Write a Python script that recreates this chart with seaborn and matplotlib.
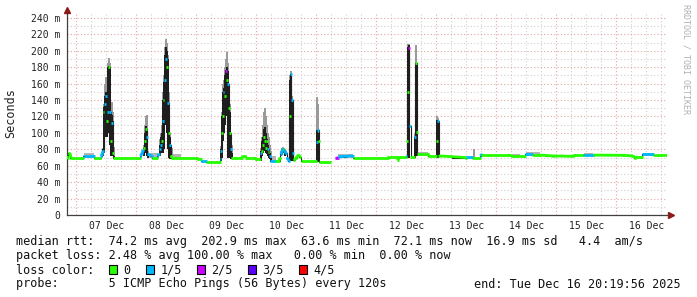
import numpy as np
import pandas as pd
import matplotlib
matplotlib.use("Agg")
import matplotlib.pyplot as plt
import matplotlib.dates as mdates
from matplotlib.ticker import MultipleLocator, FuncFormatter
from matplotlib.patches import Rectangle
from matplotlib.collections import LineCollection
import seaborn as sns

# ---------------- data ----------------
START = "2025-12-06 20:20"
SPAN_DAYS = 10

# median rtt (ms), hours since START, loss level (0..4 of 5 pings)
med_hours = [0.0, 0.4, 0.8, 1.2, 1.6, 6.4, 6.6, 10.8, 11.0, 13.4, 13.6, 14.0, 14.4,
             14.8, 15.2, 15.6, 16.0, 16.4, 16.8, 17.2, 17.6, 18.0, 18.4, 18.8,
             29.2, 29.4, 30.0, 30.4, 30.8, 31.2, 31.6, 32.0, 32.4, 34.0, 34.2, 36.0, 36.2, 36.8,
             37.2, 37.6, 38.0, 38.4, 38.8, 39.2, 39.6, 40.0, 40.4, 40.8, 41.2, 41.6, 42.0,
             52.0, 52.2, 53.6, 53.8, 55.6, 55.8, 61.2, 61.4,
             61.6, 62.0, 62.4, 62.8, 63.2, 63.6, 64.0, 64.4, 64.8, 65.2, 65.6, 66.0,
             70.0, 70.4, 71.2, 71.6, 75.2, 75.4, 77.2,
             77.6, 78.0, 78.4, 78.8, 79.2, 79.6, 80.0, 80.4, 80.8, 81.2, 81.6, 83.2, 83.4, 84.8,
             85.2, 85.6, 86.0, 86.4, 86.8, 87.2, 87.6, 88.0, 88.8,
             89.2, 89.6, 90.0, 90.4, 90.8, 91.6, 92.0, 92.8, 93.2, 94.0, 99.6,
             100.0, 100.4, 100.8, 101.2, 105.2, 106.4,
             107.6, 108.4, 108.6, 114.4, 114.6, 128.4, 128.8, 132.0, 132.4, 132.8, 135.6, 135.8,
             136.0, 136.4, 136.8, 137.2, 137.6, 138.8,
             139.2, 139.6, 140.0, 140.4, 144.4, 144.8, 147.6,
             148.0, 148.4, 148.8, 159.6, 159.8, 162.0, 162.2, 165.2, 165.4, 165.8, 166.0,
             176.4, 178.0, 183.2, 183.6, 186.0, 186.2, 189.2, 194.4, 202.4, 202.8, 206.4,
             206.6, 210.4, 210.6, 222.4, 226.4, 227.2, 228.4, 230.0, 230.4, 234.4, 234.6, 240.0]
med_ms = [71, 70, 75, 74, 70, 70, 72, 72, 70, 70, 72, 74, 78,
          125, 135, 145, 115, 125, 180, 125, 90, 112, 75, 70,
          70, 72, 75, 79, 82, 90, 105, 95, 74, 72, 70, 70, 72, 74,
          80, 85, 90, 115, 140, 165, 190, 180, 136, 100, 85, 72, 70,
          70, 68, 68, 66, 66, 64, 64, 68,
          78, 100, 120, 150, 145, 175, 165, 160, 130, 100, 80, 70,
          70, 72, 72, 70, 70, 68, 68,
          75, 78, 85, 95, 90, 82, 90, 80, 77, 72, 66, 66, 66, 66,
          70, 74, 78, 81, 80, 78, 75, 70, 66,
          120, 172, 140, 75, 67, 69, 72, 73, 71, 66, 66,
          89, 104, 90, 64, 64, np.nan,
          69, 70, 71, 72, 70, 70, 71, 71, 67, 71, 71, 72,
          90, 150, 203, 108, 71, 71,
          95, 185, 101, 74, 74, 72, 72,
          90, 114, 72, 70, 71, 71, 70, 70, 72, 74, 73,
          73, 72, 72, 74, 74, 73, 73, 72, 71.5, 73, 73,
          73.5, 73.5, 73, 72.7, 72, 69.5, 71, 71, 74, 74, 72.7, 72.7]
med_loss = [0, 0, 0, 0, 0, 0, 1, 1, 0, 0, 1, 1, 1,
            0, 1, 1, 0, 1, 0, 1, 0, 1, 0, 0,
            0, 1, 1, 1, 0, 0, 0, 1, 1, 1, 0, 0, 1, 1,
            1, 1, 0, 1, 0, 1, 1, 0, 1, 0, 1, 0, 0,
            0, 0, 0, 1, 1, 0, 0, 1,
            1, 0, 0, 1, 0, 2, 0, 1, 0, 0, 1, 0,
            0, 0, 0, 0, 0, 0, 0,
            1, 0, 0, 0, 0, 0, 0, 1, 0, 1, 1, 1, 0, 0,
            0, 1, 1, 1, 0, 1, 1, 1, 1,
            0, 1, 1, 1, 0, 0, 0, 0, 0, 0, 0,
            1, 1, 0, 0, 0, 0,
            2, 2, 1, 1, 0, 0, 0, 0, 0, 0, 0, 1,
            0, 0, 2, 1, 0, 0,
            1, 0, 0, 0, 0, 0, 0,
            0, 1, 0, 0, 1, 1, 0, 0, 1, 1, 0,
            0, 0, 0, 1, 1, 0, 0, 0, 0, 0, 0,
            1, 1, 0, 0, 0, 0, 0, 0, 1, 1, 0, 0]

# smoke (spread of the 5 pings): hours, low, high of dense part, top of light part
smoke_hours = [0.8, 1.2,
               14.4, 14.8, 15.2, 15.6, 16.0, 16.4, 16.8, 17.2, 17.6, 18.0, 18.4, 18.8,
               30.8, 31.2, 31.6, 32.0, 32.4,
               37.2, 37.6, 38.0, 38.4, 38.8, 39.2, 39.6, 40.0, 40.4, 40.8, 41.2, 41.6, 42.0,
               61.6, 62.0, 62.4, 62.8, 63.2, 63.6, 64.0, 64.4, 64.8, 65.2, 65.6, 66.0,
               77.6, 78.0, 78.4, 78.8, 79.2, 79.6, 80.0, 80.4, 80.8, 81.2, 81.6,
               85.6, 86.0, 86.4, 86.8, 87.2,
               89.2, 89.6, 90.0, 90.4,
               100.0, 100.4,
               136.4, 136.8,
               139.2, 139.6, 140.0,
               148.0, 148.4,
               162.8]
smoke_lo = [72, 72,
            72, 75, 95, 105, 95, 100, 115, 85, 72, 80, 72, 70,
            72, 75, 80, 72, 70,
            72, 75, 78, 75, 80, 110, 130, 100, 80, 70, 68, 68, 68,
            66, 70, 90, 100, 110, 120, 130, 70, 70, 70, 68, 68,
            66, 72, 75, 78, 80, 76, 74, 72, 70, 68, 65,
            72, 74, 76, 75, 72,
            66, 66, 66, 66,
            64, 64,
            69, 69,
            72, 72, 72,
            70, 70,
            70]
smoke_hi = [76, 75,
            80, 131, 145, 150, 130, 180, 182, 180, 120, 122, 115, 72,
            82, 100, 108, 100, 74,
            85, 95, 100, 140, 162, 195, 205, 200, 190, 135, 95, 80, 72,
            80, 120, 150, 155, 170, 177, 180, 175, 150, 125, 90, 75,
            78, 90, 95, 105, 107, 100, 92, 85, 80, 75, 70,
            76, 80, 81, 80, 78,
            165, 172, 140, 75,
            104, 100,
            205, 207,
            95, 185, 101,
            116, 114,
            70]
smoke_top = [76, 76,
             82, 135, 160, 168, 140, 185, 191, 185, 125, 138, 125, 83,
             85, 110, 120, 122, 78,
             92, 100, 110, 150, 170, 205, 214, 210, 195, 150, 100, 85, 82,
             84, 125, 160, 165, 180, 190, 199, 185, 160, 135, 100, 85,
             82, 95, 110, 125, 130, 120, 110, 100, 95, 85, 78,
             78, 82, 83, 82, 80,
             170, 175, 145, 78,
             144, 135,
             208, 208,
             100, 207, 110,
             120, 118,
             81]

# light haze along the baseline: start hour, end hour, low, high
haze_start = [6.6, 32.4, 42.0, 81.6, 108.4, 140.4, 178.0, 183.6, 206.6, 230.4]
haze_end = [10.8, 36.8, 45.6, 83.6, 114.4, 144.4, 181.2, 189.2, 210.4, 234.4]
haze_lo = [70, 70, 69, 65, 70, 72, 71, 72, 72, 72]
haze_hi = [76, 76, 74, 72, 74, 77, 74, 76.4, 75, 76]

loss_labels = ["0", "1/5", "2/5", "3/5", "4/5"]
loss_colors = ["#26ff00", "#00b8ff", "#cc00ff", "#5a00ff", "#ff0000"]

stats_rtt = "median rtt:  74.2 ms avg  202.9 ms max  63.6 ms min  72.1 ms now  16.9 ms sd   4.4  am/s"
stats_loss = "packet loss: 2.48 % avg 100.00 % max   0.00 % min  0.00 % now"
probe_text = "probe:       5 ICMP Echo Pings (56 Bytes) every 120s"
end_text = "end: Tue Dec 16 20:19:56 2025"

# ---------------- drawing ----------------
sns.set_style("white")
plt.rcParams["font.family"] = ["DejaVu Sans Mono"]

W, H = 697, 297
fig = plt.figure(figsize=(W / 100, H / 100), dpi=100)
fig.patch.set_facecolor("white")
ax = fig.add_axes([67 / W, (H - 215) / H, 600 / W, 203 / H])
ax.set_facecolor("white")

t0 = mdates.date2num(pd.Timestamp(START))
col = 0.4 / 24.0  # one pixel column in days


def tx(hours):
    return t0 + np.asarray(hours, dtype=float) / 24.0


# haze
hs = tx(haze_start)
he = tx(haze_end)
ax.bar(hs, np.array(haze_hi) - np.array(haze_lo), bottom=haze_lo, width=he - hs,
       align="edge", color="#b4b4b4", linewidth=0, zorder=2)
# smoke
sx = tx(smoke_hours)
lo = np.array(smoke_lo, float)
hi = np.array(smoke_hi, float)
top = np.array(smoke_top, float)
ax.bar(sx, top - lo, bottom=lo, width=col * 1.1, color="#9a9a9a", linewidth=0, zorder=3)
ax.bar(sx, hi - lo, bottom=lo, width=col * 1.1, color="#1e1e1e", linewidth=0, zorder=4)

# median: thin dark line through every value
df = pd.DataFrame({"t": tx(med_hours), "ms": med_ms, "loss": med_loss})
df["seg"] = df["ms"].isna().cumsum()
dd = df.dropna().reset_index(drop=True)
sns.lineplot(data=dd, x="t", y="ms", units="seg", estimator=None, sort=False,
             color="#202020", linewidth=0.8, ax=ax, zorder=5, drawstyle="steps-mid")

# coloured median by loss level
t = df["t"].to_numpy()
v = df["ms"].to_numpy(dtype=float)
L = df["loss"].to_numpy()
segs, cols = [], []
for i in range(len(df) - 1):
    if np.isnan(v[i]) or np.isnan(v[i + 1]):
        continue
    if L[i] == L[i + 1] and abs(v[i + 1] - v[i]) <= 4:
        segs.append([(t[i], v[i]), (t[i + 1], v[i + 1])])
        cols.append(loss_colors[L[i]])
ax.add_collection(LineCollection(segs, colors=cols, linewidths=2.0, zorder=6,
                                 capstyle="butt"))
ax.hlines(dd["ms"], dd["t"] - col / 2, dd["t"] + col / 2,
          colors=[loss_colors[k] for k in dd["loss"]], linewidth=2.0, zorder=6)

# axes
ax.set_xlim(t0, t0 + SPAN_DAYS)
ax.set_ylim(0, 247.3)
ax.set_xlabel("")
ax.set_ylabel("")

major_c = "#e3a3a3"
minor_c = "#cfcfcf"
ax.xaxis.set_major_locator(mdates.HourLocator(byhour=[0]))
ax.xaxis.set_minor_locator(mdates.HourLocator(byhour=[6, 12, 18]))
ax.xaxis.set_major_formatter(FuncFormatter(lambda val, p: ""))
ax.xaxis.set_minor_formatter(FuncFormatter(
    lambda val, p: mdates.num2date(val).strftime("%d %b") if mdates.num2date(val).hour == 12 else ""))
ax.yaxis.set_major_locator(MultipleLocator(20))
ax.yaxis.set_minor_locator(MultipleLocator(10))
ax.yaxis.set_major_formatter(FuncFormatter(lambda val, p: "0" if val == 0 else f"{int(val)} m"))

ax.grid(True, which="major", color=major_c, linestyle=(0, (1, 2)), linewidth=0.8, zorder=0)
ax.grid(True, which="minor", color=minor_c, linestyle=(0, (1, 2)), linewidth=0.8, zorder=0)
ax.set_axisbelow(True)

ax.tick_params(axis="x", which="major", length=2, color="#555555", pad=0)
ax.tick_params(axis="x", which="minor", length=0, pad=4, labelsize=7, labelcolor="#222222")
ax.tick_params(axis="y", which="major", length=3, color="#555555", pad=2, labelsize=7,
               labelcolor="#222222")
ax.tick_params(axis="y", which="minor", length=0)

for s in ["top", "right"]:
    ax.spines[s].set_visible(False)
for s in ["left", "bottom"]:
    ax.spines[s].set_color("#404040")
    ax.spines[s].set_linewidth(0.9)

# arrows
ax.plot([1.006], [0], marker=">", color="#8b1a1a", markersize=4, transform=ax.transAxes,
        clip_on=False, zorder=10)
ax.plot([0], [1.01], marker="^", color="#8b1a1a", markersize=4, transform=ax.transAxes,
        clip_on=False, zorder=10)


def fx(px):
    return px / W


def fy(py):
    return 1 - py / H


fig.text(fx(11), fy(113), "Seconds", rotation=90, ha="center", va="center",
         fontsize=8.5, color="#222222")
fig.text(fx(686), fy(4), "RRDTOOL / TOBI OETIKER", rotation=270, ha="center", va="top",
         fontsize=6, color="#b0b0b0")

fs = 8.5
fig.text(fx(15.5), fy(245.5), stats_rtt, ha="left", va="baseline", fontsize=fs, color="#111111")
fig.text(fx(15.5), fy(259.5), stats_loss, ha="left", va="baseline", fontsize=fs, color="#111111")
fig.text(fx(15.5), fy(273.5), "loss color:", ha="left", va="baseline", fontsize=fs, color="#111111")
box_x = [108.5, 145.5, 196.5, 247.5, 298.5]
for bx, lab, c in zip(box_x, loss_labels, loss_colors):
    fig.add_artist(Rectangle((fx(bx), fy(273.5)), 8 / W, 9 / H, transform=fig.transFigure,
                             facecolor=c, edgecolor="black", linewidth=0.8))
    fig.text(fx(bx + 15), fy(273.5), lab, ha="left", va="baseline", fontsize=fs, color="#111111")
fig.text(fx(15.5), fy(287.5), probe_text, ha="left", va="baseline", fontsize=fs, color="#111111")
fig.text(fx(681), fy(287.5), end_text, ha="right", va="baseline", fontsize=fs, color="#111111")

fig.savefig("out.png", dpi=100, facecolor="white")
